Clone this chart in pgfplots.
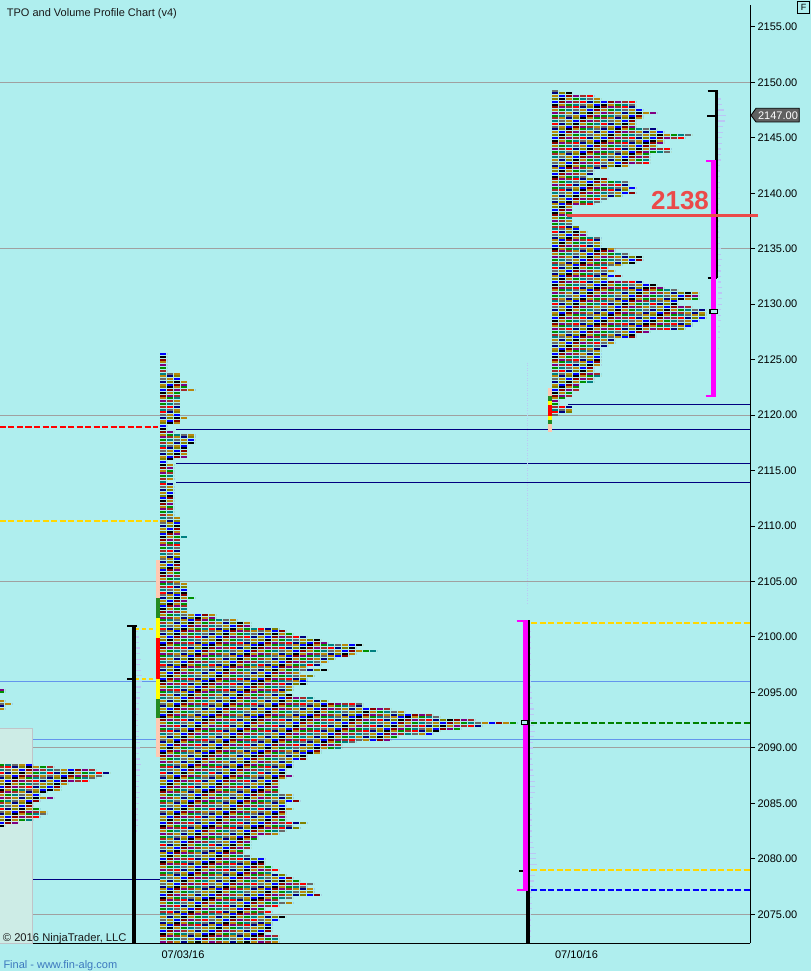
\documentclass[border=0pt]{standalone}
\usepackage{pgfplots}
\pgfplotsset{compat=1.18}
\usepackage{pgfplotstable}
\usepackage{fontspec}
\setmainfont{Liberation Sans}

\definecolor{bg}{RGB}{175,238,238}
\definecolor{levelgray}{RGB}{160,160,160}
\definecolor{cfblue}{RGB}{100,149,237}
\definecolor{navyln}{RGB}{0,0,128}
\definecolor{ibpeach}{RGB}{255,200,178}
\definecolor{ibgreen}{RGB}{34,139,34}
\definecolor{ibyellow}{RGB}{255,255,0}
\definecolor{vagold}{RGB}{255,215,0}
\definecolor{vamag}{RGB}{255,0,255}
\definecolor{pocgreen}{RGB}{0,128,0}
\definecolor{lvlred}{RGB}{235,74,74}
\definecolor{vpblue}{RGB}{188,198,245}
\definecolor{oldbox}{RGB}{205,236,230}
\definecolor{oldboxline}{RGB}{192,196,200}
\definecolor{sitecol}{RGB}{60,120,190}
\definecolor{markgray}{RGB}{96,96,96}

\pgfplotsset{
  colormap={tpo}{rgb255=(255,0,0) rgb255=(0,0,255) rgb255=(0,145,0)
    rgb255=(0,0,128) rgb255=(139,0,0) rgb255=(0,128,128) rgb255=(255,140,0)
    rgb255=(128,128,0) rgb255=(128,0,128) rgb255=(105,105,105)
    rgb255=(0,0,0) rgb255=(165,42,42) rgb255=(184,134,11)},
  % one letter column out of seven, coloured by row
  tpo/.style 2 args={
    quiver={u=\thisrow{n}*7, v=0, colored=mapped color},
    point meta={mod(round((\thisrow{p}-2000)*4)*5+#1*3,13)+0.5},
    point meta min=0, point meta max=12,
    colormap name=tpo, colormap access=piecewise constant,
    line width=2pt, dash pattern=on 6pt off 43pt, dash phase=#2, -},
  vp/.style={quiver={u=\thisrow{l}, v=0}, vpblue, line width=1.3pt, -},
}

\newcommand{\tpoprofile}[2]{%
  \addplot[tpo={0}{0pt}] table[x expr=#2, y=p] {#1};
  \addplot[tpo={1}{42pt}] table[x expr=#2, y=p] {#1};
  \addplot[tpo={2}{35pt}] table[x expr=#2, y=p] {#1};
  \addplot[tpo={3}{28pt}] table[x expr=#2, y=p] {#1};
  \addplot[tpo={4}{21pt}] table[x expr=#2, y=p] {#1};
  \addplot[tpo={5}{14pt}] table[x expr=#2, y=p] {#1};
  \addplot[tpo={6}{7pt}] table[x expr=#2, y=p] {#1};
}

% TPO profile 07/03/16: price, letters in row
\pgfplotstableread[row sep=\\]{
p n\\
2125.5 1\\ 2125.25 1\\ 2125 1\\ 2124.75 1\\ 2124.5 1\\ 2124.25 1\\ 2124 1\\
2123.75 3\\ 2123.5 3\\ 2123.25 3\\ 2123 4\\ 2122.75 4\\ 2122.5 4\\ 2122.25 5\\
2122 3\\ 2121.75 3\\ 2121.5 3\\ 2121.25 3\\ 2121 3\\ 2120.75 3\\ 2120.5 3\\ 2120.25 3\\ 2120 3\\
2119.75 4\\ 2119.5 3\\ 2119.25 3\\ 2119 1\\ 2118.75 1\\ 2118.5 2\\
2118.25 5\\ 2118 5\\ 2117.75 5\\ 2117.5 5\\
2117.25 4\\ 2117 4\\ 2116.75 4\\ 2116.5 4\\ 2116.25 4\\ 2116 2\\ 2115.75 1\\
2115.5 2\\ 2115.25 2\\ 2115 2\\ 2114.75 2\\ 2114.5 2\\ 2114.25 2\\ 2114 1\\
2113.75 2\\ 2113.5 2\\ 2113.25 2\\ 2113 2\\ 2112.75 2\\ 2112.5 2\\ 2112.25 2\\ 2112 2\\
2111.75 2\\ 2111.5 2\\ 2111.25 2\\ 2111 2\\
2110.75 3\\ 2110.5 3\\ 2110.25 3\\ 2110 3\\ 2109.75 3\\ 2109.5 3\\ 2109.25 3\\ 2109 4\\
2108.75 3\\ 2108.5 3\\ 2108.25 3\\ 2108 3\\ 2107.75 3\\ 2107.5 3\\ 2107.25 3\\ 2107 3\\
2106.75 3\\ 2106.5 3\\ 2106.25 3\\ 2106 3\\ 2105.75 3\\ 2105.5 3\\ 2105.25 3\\ 2105 3\\
2104.75 4\\ 2104.5 4\\ 2104.25 4\\ 2104 4\\ 2103.75 4\\ 2103.5 5\\
2103.25 4\\ 2103 4\\ 2102.75 4\\ 2102.5 4\\ 2102.25 4\\
2102 8\\ 2101.75 8\\ 2101.5 11\\ 2101.25 13\\ 2101 13\\ 2100.75 17\\ 2100.5 18\\ 2100.25 19\\
2100 21\\ 2099.75 23\\ 2099.5 24\\ 2099.25 29\\ 2099 28\\ 2098.75 31\\ 2098.5 28\\ 2098.25 27\\
2098 25\\ 2097.75 24\\ 2097.5 23\\ 2097.25 21\\ 2097 24\\ 2096.75 20\\ 2096.5 22\\ 2096.25 21\\
2096 21\\ 2095.75 21\\ 2095.5 19\\ 2095.25 19\\ 2095 18\\ 2094.75 19\\ 2094.5 22\\ 2094.25 24\\
2094 29\\ 2093.75 29\\ 2093.5 33\\ 2093.25 35\\ 2093 39\\ 2092.75 40\\ 2092.5 45\\ 2092.25 51\\
2092 46\\ 2091.75 43\\ 2091.5 40\\ 2091.25 39\\ 2091 34\\ 2090.75 33\\ 2090.5 28\\ 2090.25 26\\
2090 26\\ 2089.75 23\\ 2089.5 23\\ 2089.25 21\\ 2089 21\\ 2088.75 19\\ 2088.5 19\\ 2088.25 19\\
2088 18\\ 2087.75 18\\ 2087.5 19\\ 2087.25 18\\ 2087 17\\ 2086.75 17\\ 2086.5 17\\ 2086.25 17\\
2086 17\\ 2085.75 19\\ 2085.5 19\\ 2085.25 20\\ 2085 18\\ 2084.75 18\\ 2084.5 19\\ 2084.25 18\\
2084 18\\ 2083.75 18\\ 2083.5 18\\ 2083.25 21\\ 2083 19\\ 2082.75 20\\ 2082.5 18\\ 2082.25 17\\
2082 14\\ 2081.75 14\\ 2081.5 13\\ 2081.25 13\\ 2081 13\\ 2080.75 12\\ 2080.5 12\\ 2080.25 13\\
2080 15\\ 2079.75 15\\ 2079.5 15\\ 2079.25 16\\ 2079 17\\ 2078.75 16\\ 2078.5 18\\ 2078.25 19\\
2078 20\\ 2077.75 22\\ 2077.5 21\\ 2077.25 22\\ 2077 22\\ 2076.75 23\\ 2076.5 19\\ 2076.25 17\\
2076 19\\ 2075.75 17\\ 2075.5 15\\ 2075.25 16\\ 2075 15\\ 2074.75 18\\ 2074.5 17\\ 2074.25 16\\
2074 16\\ 2073.75 16\\ 2073.5 16\\ 2073.25 15\\ 2073 17\\ 2072.75 17\\ 2072.5 17\\
}\tpoA

% TPO profile 07/10/16
\pgfplotstableread[row sep=\\]{
p n\\
2149.25 1\\ 2149 3\\ 2148.75 6\\ 2148.5 7\\ 2148.25 12\\ 2148 12\\ 2147.75 12\\ 2147.5 13\\
2147.25 15\\ 2147 13\\ 2146.75 13\\ 2146.5 12\\ 2146.25 12\\ 2146 12\\ 2145.75 15\\ 2145.5 16\\
2145.25 20\\ 2145 19\\ 2144.75 16\\ 2144.5 16\\ 2144.25 15\\ 2144 17\\ 2143.75 17\\ 2143.5 14\\
2143.25 14\\ 2143 14\\ 2142.75 14\\ 2142.5 11\\ 2142.25 8\\ 2142 6\\ 2141.75 6\\ 2141.5 5\\
2141.25 8\\ 2141 11\\ 2140.75 11\\ 2140.5 12\\ 2140.25 11\\ 2140 12\\ 2139.75 10\\ 2139.5 8\\
2139.25 7\\ 2139 6\\ 2138.75 3\\ 2138.5 3\\ 2138.25 3\\ 2138 3\\ 2137.75 3\\ 2137.5 3\\
2137.25 3\\ 2137 4\\ 2136.75 4\\ 2136.5 5\\ 2136.25 5\\ 2136 7\\ 2135.75 7\\ 2135.5 7\\
2135.25 7\\ 2135 9\\ 2134.75 9\\ 2134.5 11\\ 2134.25 13\\ 2134 13\\ 2133.75 12\\ 2133.5 10\\
2133.25 8\\ 2133 9\\ 2132.75 8\\ 2132.5 10\\ 2132.25 8\\ 2132 13\\ 2131.75 15\\ 2131.5 16\\
2131.25 18\\ 2131 21\\ 2130.75 21\\ 2130.5 21\\ 2130.25 18\\ 2130 18\\ 2129.75 20\\ 2129.5 22\\
2129.25 22\\ 2129 22\\ 2128.75 22\\ 2128.5 21\\ 2128.25 20\\ 2128 20\\ 2127.75 19\\ 2127.5 14\\
2127.25 12\\ 2127 12\\ 2126.75 9\\ 2126.5 9\\ 2126.25 8\\ 2126 7\\ 2125.75 7\\ 2125.5 7\\
2125.25 7\\ 2125 7\\ 2124.75 7\\ 2124.5 7\\ 2124.25 6\\ 2124 6\\ 2123.75 7\\ 2123.5 7\\
2123.25 6\\ 2123 6\\ 2122.75 4\\ 2122.5 4\\ 2122.25 4\\ 2122 3\\ 2121.75 3\\ 2121.5 2\\
2121.25 1\\ 2121 1\\ 2120.75 3\\ 2120.5 3\\ 2120.25 3\\ 2120 1\\
}\tpoB

% previous session, cut by the left edge
\pgfplotstableread[row sep=\\]{
p n\\
2095.25 1\\ 2095 1\\ 2094.25 1\\ 2094 2\\ 2093.75 1\\ 2093.5 1\\
2088.5 5\\ 2088.25 8\\ 2088 14\\ 2087.75 16\\ 2087.5 15\\ 2087.25 14\\ 2087 13\\ 2086.75 10\\
2086.5 9\\ 2086.25 9\\ 2086 7\\ 2085.75 6\\ 2085.5 8\\ 2085.25 6\\ 2085 5\\ 2084.75 5\\
2084.5 6\\ 2084.25 7\\ 2084 7\\ 2083.75 6\\ 2083.5 5\\ 2083.25 3\\ 2083 1\\
}\tpoL

% faint volume profiles: start x, price, length
\pgfplotstableread[row sep=\\]{
x p l\\
136 2100.5 2\\ 136 2100 3\\ 136 2099.5 3\\ 136 2099 4\\ 136 2098.5 4\\ 136 2098 5\\ 136 2097.5 4\\
136 2097 5\\ 136 2096.5 6\\ 136 2096 6\\ 136 2095.5 5\\ 136 2095 4\\ 136 2094.5 4\\ 136 2094 3\\
136 2093.5 3\\ 136 2093 2\\ 136 2092.5 2\\ 136 2092 2\\ 136 2091.5 3\\ 136 2091 3\\ 136 2090.5 4\\
136 2090 4\\ 136 2089.5 3\\ 136 2089 4\\ 136 2088.5 5\\ 136 2088 4\\ 136 2087.5 4\\ 136 2087 3\\
136 2086.5 3\\ 136 2086 4\\ 136 2085.5 3\\ 136 2085 3\\ 136 2084.5 2\\ 136 2084 2\\ 136 2083.5 2\\
136 2083 2\\ 136 2082.5 1\\
529 2101 1\\ 529 2100.5 2\\ 529 2100 2\\ 529 2099.5 2\\ 529 2099 2\\ 529 2098.5 2\\ 529 2098 2\\
529 2097.5 2\\ 529 2097 2\\ 529 2096.5 2\\ 529 2096 2\\ 529 2095.5 2\\ 529 2095 3\\ 529 2094.5 3\\
529 2094 4\\ 529 2093.5 5\\ 529 2093 5\\ 529 2092.5 5\\ 529 2092 5\\ 529 2091.5 6\\ 529 2091 5\\
529 2090.5 4\\ 529 2090 4\\ 529 2089.5 4\\ 529 2089 3\\ 529 2088.5 4\\ 529 2088 4\\ 529 2087.5 5\\
529 2087 6\\ 529 2086.5 6\\ 529 2086 6\\ 529 2085.5 4\\ 529 2085 3\\ 529 2084.5 3\\ 529 2084 3\\
529 2083.5 3\\ 529 2083 3\\ 529 2082.5 3\\ 529 2082 3\\ 529 2081.5 4\\ 529 2081 5\\ 529 2080.5 7\\
529 2080 7\\ 529 2079.5 8\\ 529 2079 8\\ 529 2078.5 6\\ 529 2078 5\\ 529 2077.5 4\\ 529 2077 3\\
529 2076.5 3\\ 529 2076 3\\ 529 2075.5 3\\ 529 2075 2\\ 529 2074.5 2\\ 529 2074 2\\ 529 2073.5 2\\
529 2073 2\\
718 2149 1\\ 718 2148.5 3\\ 718 2148 4\\ 718 2147.5 6\\ 718 2147 8\\ 718 2146.5 7\\ 718 2146 5\\
718 2145.5 5\\ 718 2145 4\\ 718 2144.5 4\\ 718 2144 3\\ 718 2143.5 3\\ 718 2143 3\\ 718 2142.5 2\\
718 2142 2\\ 718 2141.5 2\\ 718 2141 2\\ 718 2140.5 2\\ 718 2140 2\\ 718 2139.5 2\\ 718 2139 1\\
718 2138.5 1\\ 718 2138 1\\ 718 2137.5 1\\ 718 2137 1\\ 718 2136.5 1\\ 718 2136 2\\ 718 2135.5 2\\
718 2135 3\\ 718 2134.5 3\\ 718 2134 4\\ 718 2133.5 3\\ 718 2133 3\\ 718 2132.5 3\\ 718 2132 3\\
718 2131.5 4\\ 718 2131 4\\ 718 2130.5 4\\ 718 2130 4\\ 718 2129.5 3\\ 718 2129 3\\ 718 2128.5 3\\
718 2128 2\\ 718 2127.5 2\\ 718 2127 2\\ 718 2126 1\\
}\vpdata

\begin{document}
\begin{tikzpicture}
\fill[bg] (0,0) rectangle (811pt,-971pt);
\useasboundingbox (0,0) rectangle (811pt,-971pt);
\begin{axis}[
  at={(0pt,-5pt)}, anchor=north west,
  scale only axis, width=750pt, height=938pt,
  xmin=0, xmax=750, ymin=2072.413, ymax=2156.97,
  axis x line*=bottom, axis y line*=right,
  axis line style={black, line width=1pt},
  clip=false, no markers,
  xtick={183,576.5}, xticklabels={07/03/16,07/10/16},
  xtick style={draw=none},
  ytick={2075,2080,...,2155},
  ytick style={black, line width=1pt},
  tick align=outside, major tick length=5pt,
  scaled y ticks=false,
  /pgf/number format/assume math mode=true,
  yticklabel style={anchor=west, xshift=-1pt, /pgf/number format/.cd, fixed, fixed zerofill, precision=2, 1000 sep={}},
  ticklabel style={font=\fontsize{11}{13}\selectfont, text=black},
  xticklabel style={yshift=1pt},
]
% price levels
\pgfplotsinvokeforeach{2075,2090,2105,2120,2135,2150}{
  \addplot[levelgray, line width=1pt] coordinates {(0,#1) (750,#1)};
}
\addplot[cfblue, line width=1pt] coordinates {(0,2096.0) (750,2096.0)};
\addplot[cfblue, line width=1pt] coordinates {(0,2090.75) (750,2090.75)};
\addplot[navyln, line width=1pt] coordinates {(568,2121.0) (750,2121.0)};
\addplot[navyln, line width=1pt] coordinates {(176,2118.72) (750,2118.72)};
\addplot[navyln, line width=1pt] coordinates {(176,2115.66) (750,2115.66)};
\addplot[navyln, line width=1pt] coordinates {(176,2113.94) (750,2113.94)};
\addplot[navyln, line width=1pt] coordinates {(0,2078.15) (160,2078.15)};

% previous session box
\addplot[fill=oldbox, draw=oldboxline, line width=1pt]
  coordinates {(0,2072.413) (32.3,2072.413) (32.3,2091.77) (0,2091.77) (0,2072.413)};

% faint volume profiles
\addplot[vp] table[x=x, y=p] {\vpdata};
\addplot[vpblue, line width=1pt, dash pattern=on 1pt off 1.5pt]
  coordinates {(527,2103.0) (527,2124.8)};

% TPO letters
\tpoprofile{\tpoL}{-2}
\tpoprofile{\tpoA}{160}
\tpoprofile{\tpoB}{552}

% initial balance strips
\addplot[ibpeach, line width=4pt] coordinates {(158,2106.94) (158,2103.51)};
\addplot[ibgreen, line width=4pt] coordinates {(158,2103.51) (158,2101.71)};
\addplot[ibyellow, line width=4pt] coordinates {(158,2101.71) (158,2099.91)};
\addplot[red, line width=4pt] coordinates {(158,2099.91) (158,2096.22)};
\addplot[ibyellow, line width=4pt] coordinates {(158,2096.22) (158,2094.42)};
\addplot[ibgreen, line width=4pt] coordinates {(158,2094.42) (158,2092.70)};
\addplot[ibpeach, line width=4pt] coordinates {(158,2092.70) (158,2089.19)};
\addplot[ibpeach, line width=4pt] coordinates {(550,2122.42) (550,2121.72)};
\addplot[ibgreen, line width=4pt] coordinates {(550,2121.72) (550,2121.30)};
\addplot[ibyellow, line width=4pt] coordinates {(550,2121.30) (550,2120.88)};
\addplot[red, line width=4pt] coordinates {(550,2120.88) (550,2119.92)};
\addplot[ibyellow, line width=4pt] coordinates {(550,2119.92) (550,2119.56)};
\addplot[ibgreen, line width=4pt] coordinates {(550,2119.56) (550,2119.17)};
\addplot[ibpeach, line width=4pt] coordinates {(550,2119.17) (550,2118.50)};

% dashed reference levels
\addplot[red, line width=2pt, dash pattern=on 6pt off 2.5pt] coordinates {(0,2118.96) (158,2118.96)};
\addplot[vagold, line width=2pt, dash pattern=on 6pt off 2.5pt] coordinates {(0,2110.48) (158,2110.48)};
\addplot[vagold, line width=2pt, dash pattern=on 4pt off 3pt] coordinates {(135,2100.75) (156,2100.75)};
\addplot[vagold, line width=2pt, dash pattern=on 4pt off 3pt] coordinates {(135,2096.25) (156,2096.25)};
\addplot[vagold, line width=2pt, dash pattern=on 6pt off 2.5pt] coordinates {(531,2101.26) (750,2101.26)};
\addplot[pocgreen, line width=2pt, dash pattern=on 6pt off 2.5pt] coordinates {(531,2092.27) (750,2092.27)};
\addplot[vagold, line width=2pt, dash pattern=on 6pt off 2.5pt] coordinates {(531,2078.99) (750,2078.99)};
\addplot[blue, line width=2pt, dash pattern=on 6pt off 2.5pt] coordinates {(531,2077.19) (750,2077.19)};

% range bars, session 1
\addplot[black, line width=4pt] coordinates {(134,2072.413) (134,2101.0)};
\addplot[black, line width=2pt] coordinates {(127,2100.96) (136.5,2100.96)};
\addplot[black, line width=2pt] coordinates {(127,2096.22) (134,2096.22)};
\addplot[black, line width=4pt] coordinates {(527.5,2072.413) (527.5,2101.5)};
\addplot[vamag, line width=5pt] coordinates {(525,2077.16) (525,2101.5)};
\addplot[vamag, line width=2pt] coordinates {(516.7,2101.45) (527.5,2101.45)};
\addplot[vamag, line width=2pt] coordinates {(516.7,2077.2) (527.5,2077.2)};
\addplot[black, line width=2pt] coordinates {(519,2078.93) (523,2078.93)};
\addplot[black, fill=bg, line width=1.5pt]
  coordinates {(521.5,2092.1) (528,2092.1) (528,2092.45) (521.5,2092.45) (521.5,2092.1)};

% range bars, session 2
\addplot[black, line width=3pt] coordinates {(716.5,2132.37) (716.5,2149.24)};
\addplot[black, line width=2pt] coordinates {(707.7,2149.2) (718,2149.2)};
\addplot[black, line width=2pt] coordinates {(707,2146.95) (715,2146.95)};
\addplot[black, line width=2pt] coordinates {(707.7,2132.4) (717,2132.4)};
\addplot[vamag, line width=4.5pt] coordinates {(713.5,2121.68) (713.5,2142.95)};
\addplot[vamag, line width=2pt] coordinates {(706,2142.9) (716,2142.9)};
\addplot[vamag, line width=2pt] coordinates {(705.7,2121.7) (716,2121.7)};
\addplot[black, fill=bg, line width=1.5pt]
  coordinates {(710,2129.15) (717.7,2129.15) (717.7,2129.5) (710,2129.5) (710,2129.15)};

% level 2138
\addplot[lvlred, line width=3pt] coordinates {(566.7,2137.95) (757.7,2137.95)};
\end{axis}

\node[anchor=base west, inner sep=0, font=\fontsize{11}{13}\selectfont, text=black!90]
  at (6.7pt,-16.5pt) {TPO and Volume Profile Chart (v4)};
\node[anchor=base west, inner sep=0, font=\fontsize{11.2}{13}\selectfont, text=black!90]
  at (2.7pt,-941pt) {\textcopyright{} 2016 NinjaTrader, LLC};
\node[anchor=base west, inner sep=0, font=\fontsize{11}{13}\selectfont, text=sitecol]
  at (3.3pt,-968pt) {Final - www.fin-alg.com};
\node[anchor=base, inner sep=0, font=\fontsize{26}{26}\selectfont\bfseries, text=lvlred]
  at (680pt,-209pt) {2138};
\filldraw[fill=markgray, draw=black, line width=0.8pt]
  (751pt,-115.3pt) -- (756pt,-108.3pt) -- (799.3pt,-108.3pt) -- (799.3pt,-122pt) -- (756pt,-122pt) -- cycle;
\node[inner sep=0, font=\fontsize{11}{13}\selectfont, text=white] at (778pt,-115.5pt) {2147.00};
\draw[black, line width=0.8pt] (797.7pt,-1.7pt) rectangle (809.3pt,-13.3pt);
\node[inner sep=0, font=\fontsize{9}{10}\selectfont] at (803.5pt,-7.6pt) {F};
\end{tikzpicture}
\end{document}
